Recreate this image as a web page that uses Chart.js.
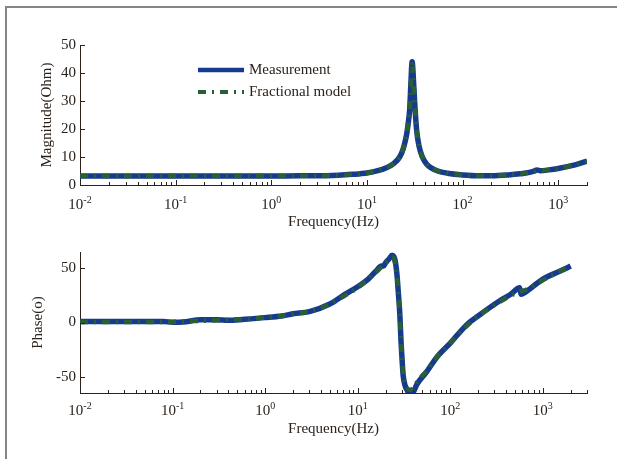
<!DOCTYPE html>
<html>
<head>
<meta charset="utf-8">
<title>Impedance: measurement vs fractional model</title>
<script src="https://cdn.jsdelivr.net/npm/chart.js@4.4.1/dist/chart.umd.min.js"></script>
<style>
    html, body { margin: 0; padding: 0; background: #fff; }
    #wrap { position: relative; width: 617px; height: 459px; overflow: hidden; background: #fff; }
    #frame { position: absolute; left: 5px; top: 6px; width: 640px; height: 480px; border-top: 2px solid #858585; border-left: 2px solid #858585; }
    #wrap canvas { position: absolute; left: 0; top: 0; }
</style>
</head>
<body>
<div id="wrap">
    <div id="frame"></div>
    <canvas id="magChart" width="617" height="459"></canvas>
    <canvas id="phaseChart" width="617" height="459"></canvas>
</div>
<script>
// --- data ---
const decadeExps = [-2, -1, 0, 1, 2, 3];
const magTicks = [0, 10, 20, 30, 40, 50];
const phaseTicks = [-50, 0, 50];

const magFreq = [0.01, 0.03, 0.1, 0.3, 1, 2, 3, 5, 7, 10, 13, 16, 19, 22, 24, 26, 27, 28, 28.8, 29.7, 30.6, 31.5, 33, 35, 38, 42, 47, 55, 70, 100, 150, 200, 300, 400, 500, 560, 600, 650, 800, 1000, 1500, 2000];
const magMeasured = [3.2, 3.2, 3.2, 3.2, 3.2, 3.3, 3.3, 3.5, 3.8, 4.3, 5.1, 6.2, 7.6, 10, 13, 18, 22, 27, 36, 44, 38, 30, 20, 14, 10, 7.5, 6.1, 5.0, 4.2, 3.6, 3.3, 3.3, 3.6, 4.0, 4.5, 5.0, 5.4, 5.1, 5.4, 5.9, 7.2, 8.5];
const magModel = [3.2, 3.2, 3.2, 3.2, 3.2, 3.3, 3.3, 3.5, 3.8, 4.3, 5.1, 6.2, 7.6, 10, 13, 18, 22, 27, 35, 43, 38, 30, 20, 14, 10, 7.5, 6.1, 5.0, 4.2, 3.6, 3.3, 3.3, 3.6, 4.0, 4.5, 4.8, 5.0, 5.1, 5.4, 5.9, 7.2, 8.5];

const phaseFreq = [0.01, 0.02, 0.05, 0.08, 0.1, 0.13, 0.2, 0.3, 0.4, 0.6, 1, 1.5, 2, 3, 5, 7, 8, 10, 13, 16, 18, 19, 20, 22, 23.5, 24.5, 25.5, 26.5, 27.5, 28.5, 29.4, 30.2, 31, 32.5, 34.5, 36.6, 40, 43.6, 55, 71.6, 100, 151, 200, 343, 450, 562, 582, 650, 1000, 1500, 2000];
const phaseMeasured = [1, 1, 1, 1, 0.2, 0.5, 2.5, 2.5, 2, 3, 4.5, 6, 8, 10, 17, 25, 28, 33, 40, 48, 52, 52, 55, 59, 62, 61, 56, 45, 27, 8, -18, -35, -49, -58, -63, -67, -64, -57, -46, -32, -19, -2, 6, 20, 26, 32, 26, 28, 40, 47, 52];
const phaseModel = [0.5, 0.5, 0.5, 0.5, 0.5, 1, 1.5, 2, 2.5, 3, 4.5, 6, 8, 10, 17, 24, 27, 32, 40, 47, 51, 53, 55, 58, 60, 59, 54, 44, 26, 7, -17, -34, -48, -57, -61, -62, -61, -55, -45, -32, -19, -3, 6, 19, 25, 28, 29, 30, 39, 47, 52];

// --- styling ---
const INK = '#2b221c';
const BLUE = '#173a91';
const GREEN = '#2a5f36';
const FONT = '"Liberation Serif", "Times New Roman", serif';
const MODEL_DASH = [8, 6, 2, 6];

Chart.defaults.font.family = FONT;
Chart.defaults.font.size = 15;
Chart.defaults.color = INK;

const toPoints = (xs, ys) => xs.map((f, i) => ({ x: f, y: ys[i] }));
const isDecade = v => Math.abs(Math.log10(v) - Math.round(Math.log10(v))) < 1e-9;

function logTicks(scale) {
    const ticks = [];
    decadeExps.forEach(e => {
        for (let m = 1; m <= 9; m++) {
            const v = Number((m * Math.pow(10, e)).toPrecision(6));
            if (v >= scale.min * 0.999 && v <= scale.max * 1.001) ticks.push({ value: v });
        }
    });
    scale.ticks = ticks;
}

// inward ticks, 10^n labels and the in-plot legend
const decor = {
    id: 'decor',
    afterDraw(chart, args, opts) {
        const { ctx, chartArea: a } = chart;
        const x = chart.scales.x, y = chart.scales.y;
        ctx.save();
        ctx.strokeStyle = INK;
        ctx.lineWidth = 1;
        ctx.beginPath();
        x.ticks.forEach(t => {
            const px = Math.round(x.getPixelForValue(t.value)) + 0.5;
            const len = isDecade(t.value) ? 5 : 3;
            ctx.moveTo(px, a.bottom);
            ctx.lineTo(px, a.bottom - len);
        });
        y.ticks.forEach(t => {
            const py = Math.round(y.getPixelForValue(t.value)) + 0.5;
            ctx.moveTo(a.left, py);
            ctx.lineTo(a.left + 5, py);
        });
        ctx.stroke();

        ctx.fillStyle = INK;
        ctx.textBaseline = 'alphabetic';
        ctx.textAlign = 'left';
        const base = a.bottom + opts.labelGap;
        decadeExps.forEach(e => {
            const px = x.getPixelForValue(Math.pow(10, e));
            ctx.font = `15px ${FONT}`;
            const w10 = ctx.measureText('10').width;
            ctx.font = `10px ${FONT}`;
            const wExp = ctx.measureText(String(e)).width;
            const x0 = px - (w10 + wExp) / 2;
            ctx.font = `15px ${FONT}`;
            ctx.fillText('10', x0, base);
            ctx.font = `10px ${FONT}`;
            ctx.fillText(String(e), x0 + w10, base - 6);
        });

        if (opts.legend) {
            const L = opts.legend;
            L.items.forEach((item, i) => {
                const ly = L.y + i * L.rowGap;
                ctx.beginPath();
                ctx.strokeStyle = item.color;
                ctx.lineWidth = item.width;
                ctx.lineCap = 'butt';
                ctx.setLineDash(item.dash);
                ctx.moveTo(L.x0, ly);
                ctx.lineTo(L.x1, ly);
                ctx.stroke();
                ctx.setLineDash([]);
                ctx.font = `15px ${FONT}`;
                ctx.fillStyle = INK;
                ctx.textBaseline = 'middle';
                ctx.fillText(item.text, L.textX, ly);
            });
        }
        ctx.restore();
    }
};

function lineSets(xs, measured, model) {
    return [
        {
            label: 'Measurement',
            data: toPoints(xs, measured),
            borderColor: BLUE,
            borderWidth: 5.5,
            pointRadius: 0,
            borderJoinStyle: 'round',
            cubicInterpolationMode: 'monotone',
            order: 2
        },
        {
            label: 'Fractional model',
            data: toPoints(xs, model),
            borderColor: GREEN,
            borderWidth: 4.5,
            borderDash: MODEL_DASH,
            pointRadius: 0,
            cubicInterpolationMode: 'monotone',
            order: 1
        }
    ];
}

function makeChart(id, cfg) {
    return new Chart(document.getElementById(id), {
        type: 'line',
        data: { datasets: lineSets(cfg.freq, cfg.measured, cfg.model) },
        options: {
            responsive: false,
            animation: false,
            devicePixelRatio: 1,
            layout: { padding: { top: cfg.top, right: 30, bottom: 0, left: 0 } },
            plugins: {
                legend: { display: false },
                tooltip: { enabled: false },
                decor: { labelGap: cfg.labelGap, legend: cfg.legend || null }
            },
            scales: {
                x: {
                    type: 'logarithmic',
                    min: 0.01,
                    max: cfg.xMax,
                    grid: { display: false, drawTicks: false },
                    border: { display: true, color: INK, width: 1 },
                    ticks: { display: false },
                    afterBuildTicks: logTicks,
                    afterFit: s => { s.height = 459 - cfg.bottom; },
                    title: { display: true, text: 'Frequency(Hz)', color: INK, padding: { top: 0, bottom: cfg.xTitlePad } }
                },
                y: {
                    min: cfg.yMin,
                    max: cfg.yMax,
                    grid: { display: false, drawTicks: false },
                    border: { display: true, color: INK, width: 1 },
                    ticks: { padding: 4, color: INK, callback: v => String(v) },
                    afterBuildTicks: s => { s.ticks = cfg.yTicks.map(v => ({ value: v })); },
                    afterFit: s => { s.width = 80; },
                    title: { display: true, text: cfg.yTitle, color: INK, padding: { top: cfg.yTitlePad, bottom: 0 } }
                }
            }
        },
        plugins: [decor]
    });
}

makeChart('magChart', {
    freq: magFreq, measured: magMeasured, model: magModel,
    top: 45, bottom: 185, xMax: 2000,
    yMin: 0, yMax: 50, yTicks: magTicks,
    yTitle: 'Magnitude(Ohm)', yTitlePad: 38,
    xTitlePad: 228, labelGap: 24,
    legend: {
        x0: 198, x1: 244, textX: 249, y: 70, rowGap: 22,
        items: [
            { text: 'Measurement', color: BLUE, width: 4.5, dash: [] },
            { text: 'Fractional model', color: GREEN, width: 4, dash: MODEL_DASH }
        ]
    }
});

makeChart('phaseChart', {
    freq: phaseFreq, measured: phaseMeasured, model: phaseModel,
    top: 252, bottom: 393, xMax: 3000,
    yMin: -65, yMax: 65, yTicks: phaseTicks,
    yTitle: 'Phase(o)', yTitlePad: 29,
    xTitlePad: 21, labelGap: 22
});
</script>
</body>
</html>
